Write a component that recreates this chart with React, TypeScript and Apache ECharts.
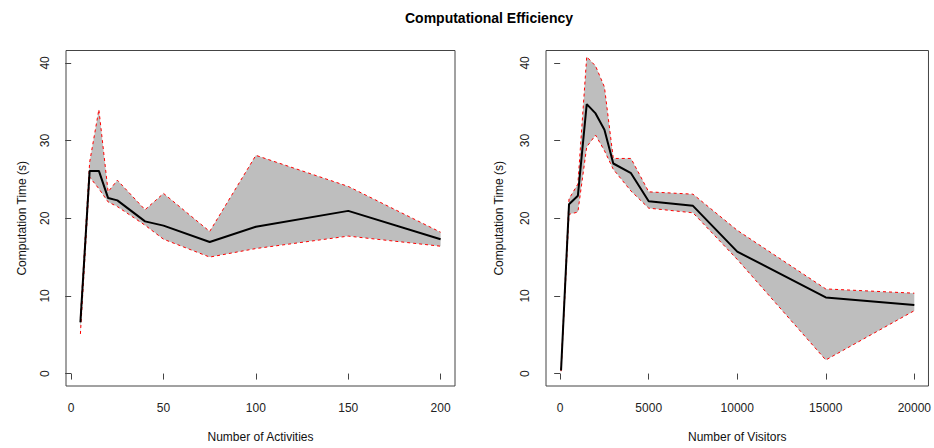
import React, { useEffect, useRef } from "react";
import * as echarts from "echarts";

// ---- Data ----
const actX = [5, 10, 15, 20, 25, 40, 50, 75, 100, 150, 200];
const actMean = [6.6, 26.1, 26.1, 22.6, 22.3, 19.6, 19.05, 16.95, 18.9, 20.95, 17.3];
const actUpper = [7.2, 27.2, 34.0, 23.4, 24.9, 21.1, 23.2, 18.3, 28.1, 24.1, 18.2];
const actLower = [5.1, 25.3, 23.8, 22.1, 21.5, 19.1, 17.3, 15.0, 16.1, 17.7, 16.4];

const visX = [50, 500, 1000, 1500, 2000, 2500, 3000, 4000, 5000, 7500, 10000, 15000, 20000];
const visMean = [0.4, 21.8, 22.9, 34.7, 33.5, 31.4, 27.05, 25.8, 22.2, 21.6, 15.7, 9.8, 8.84];
const visUpper = [0.5, 22.5, 24.4, 40.8, 39.6, 36.9, 27.7, 27.7, 23.4, 23.1, 18.45, 10.9, 10.35];
const visLower = [0.3, 20.5, 20.8, 29.2, 30.7, 28.7, 26.3, 23.5, 21.3, 20.7, 14.7, 1.75, 8.1];

const actTicks = [0, 50, 100, 150, 200];
const visTicks = [0, 5000, 10000, 15000, 20000];
const yTicks = [0, 10, 20, 30, 40];

const titleText = "Computational Efficiency";
const xNames = ["Number of Activities", "Number of Visitors"];
const yName = "Computation Time (s)";

const FONT = "'Liberation Sans', Arial, Helvetica, sans-serif";

function bandSeries(xs: number[], lo: number[], hi: number[], idx: number) {
  return {
    type: "custom",
    xAxisIndex: idx,
    yAxisIndex: idx,
    data: xs.map((x, i) => [x, lo[i], hi[i]]),
    encode: { x: 0, y: [1, 2] },
    clip: false,
    silent: true,
    z: 1,
    renderItem: (params: any, api: any) => {
      if (params.dataIndex !== 0) return null;
      const pts: number[][] = [];
      for (let i = 0; i < xs.length; i++) pts.push(api.coord([xs[i], hi[i]]));
      for (let i = xs.length - 1; i >= 0; i--) pts.push(api.coord([xs[i], lo[i]]));
      return {
        type: "polygon",
        shape: { points: pts },
        style: { fill: "#bebebe", stroke: null },
      };
    },
  };
}

function lineSeries(
  xs: number[],
  ys: number[],
  idx: number,
  color: string,
  width: number,
  dashed: boolean,
  z: number
) {
  return {
    type: "line",
    xAxisIndex: idx,
    yAxisIndex: idx,
    data: xs.map((x, i) => [x, ys[i]]),
    showSymbol: false,
    symbol: "none",
    clip: false,
    silent: true,
    z,
    lineStyle: { color, width, type: dashed ? [3, 3] : "solid" },
  };
}

function xAxisDef(idx: number, min: number, max: number, ticks: number[], name: string) {
  return {
    gridIndex: idx,
    type: "value",
    min,
    max,
    name,
    nameLocation: "middle",
    nameGap: 45,
    nameTextStyle: { fontSize: 12, color: "#111", fontFamily: FONT },
    axisLine: { show: false },
    axisTick: { show: true, length: 6, customValues: ticks, lineStyle: { color: "#444", width: 1 } },
    axisLabel: {
      customValues: ticks,
      margin: 16,
      fontSize: 12,
      color: "#222",
      fontFamily: FONT,
      formatter: (v: number) => String(v),
    },
    splitLine: { show: false },
  };
}

function yAxisDef(idx: number, nameGap: number) {
  return {
    gridIndex: idx,
    type: "value",
    min: -1.6,
    max: 41.6,
    name: yName,
    nameLocation: "middle",
    nameGap,
    nameTextStyle: { fontSize: 12, color: "#111", fontFamily: FONT },
    axisLine: { show: false },
    axisTick: { show: true, length: 6, customValues: yTicks, lineStyle: { color: "#444", width: 1 } },
    axisLabel: {
      customValues: yTicks,
      rotate: 90,
      margin: 15,
      fontSize: 12,
      color: "#222",
      fontFamily: FONT,
      formatter: (v: number) => String(v),
    },
    splitLine: { show: false },
  };
}

export default function App() {
  const ref = useRef<HTMLDivElement>(null);

  useEffect(() => {
    if (!ref.current) return;
    const chart = echarts.init(ref.current, null, { renderer: "svg" });
    const gridCommon = {
      show: true,
      borderColor: "#444",
      borderWidth: 1,
      backgroundColor: "transparent",
      containLabel: false,
    };
    chart.setOption({
      animation: false,
      backgroundColor: "#fff",
      title: {
        text: titleText,
        left: 484,
        top: 6,
        textAlign: "center",
        textStyle: { fontSize: 14, fontWeight: "bold", fontFamily: FONT, color: "#000" },
      },
      grid: [
        { ...gridCommon, left: 66, top: 50.5, width: 389, height: 335.5 },
        { ...gridCommon, left: 546, top: 50.5, width: 387.5, height: 335.5 },
      ],
      xAxis: [
        xAxisDef(0, -2.8, 207.8, actTicks, xNames[0]),
        xAxisDef(1, -800, 20800, visTicks, xNames[1]),
      ],
      yAxis: [yAxisDef(0, 38), yAxisDef(1, 41)],
      series: [
        bandSeries(actX, actLower, actUpper, 0),
        lineSeries(actX, actUpper, 0, "#ff0000", 1, true, 2),
        lineSeries(actX, actLower, 0, "#ff0000", 1, true, 2),
        lineSeries(actX, actMean, 0, "#000000", 2, false, 3),
        bandSeries(visX, visLower, visUpper, 1),
        lineSeries(visX, visUpper, 1, "#ff0000", 1, true, 2),
        lineSeries(visX, visLower, 1, "#ff0000", 1, true, 2),
        lineSeries(visX, visMean, 1, "#000000", 2, false, 3),
      ],
    });
    return () => chart.dispose();
  }, []);

  return (
    <div
      ref={ref}
      style={{ position: "absolute", left: 0, top: 0, width: 934, height: 448 }}
    />
  );
}
